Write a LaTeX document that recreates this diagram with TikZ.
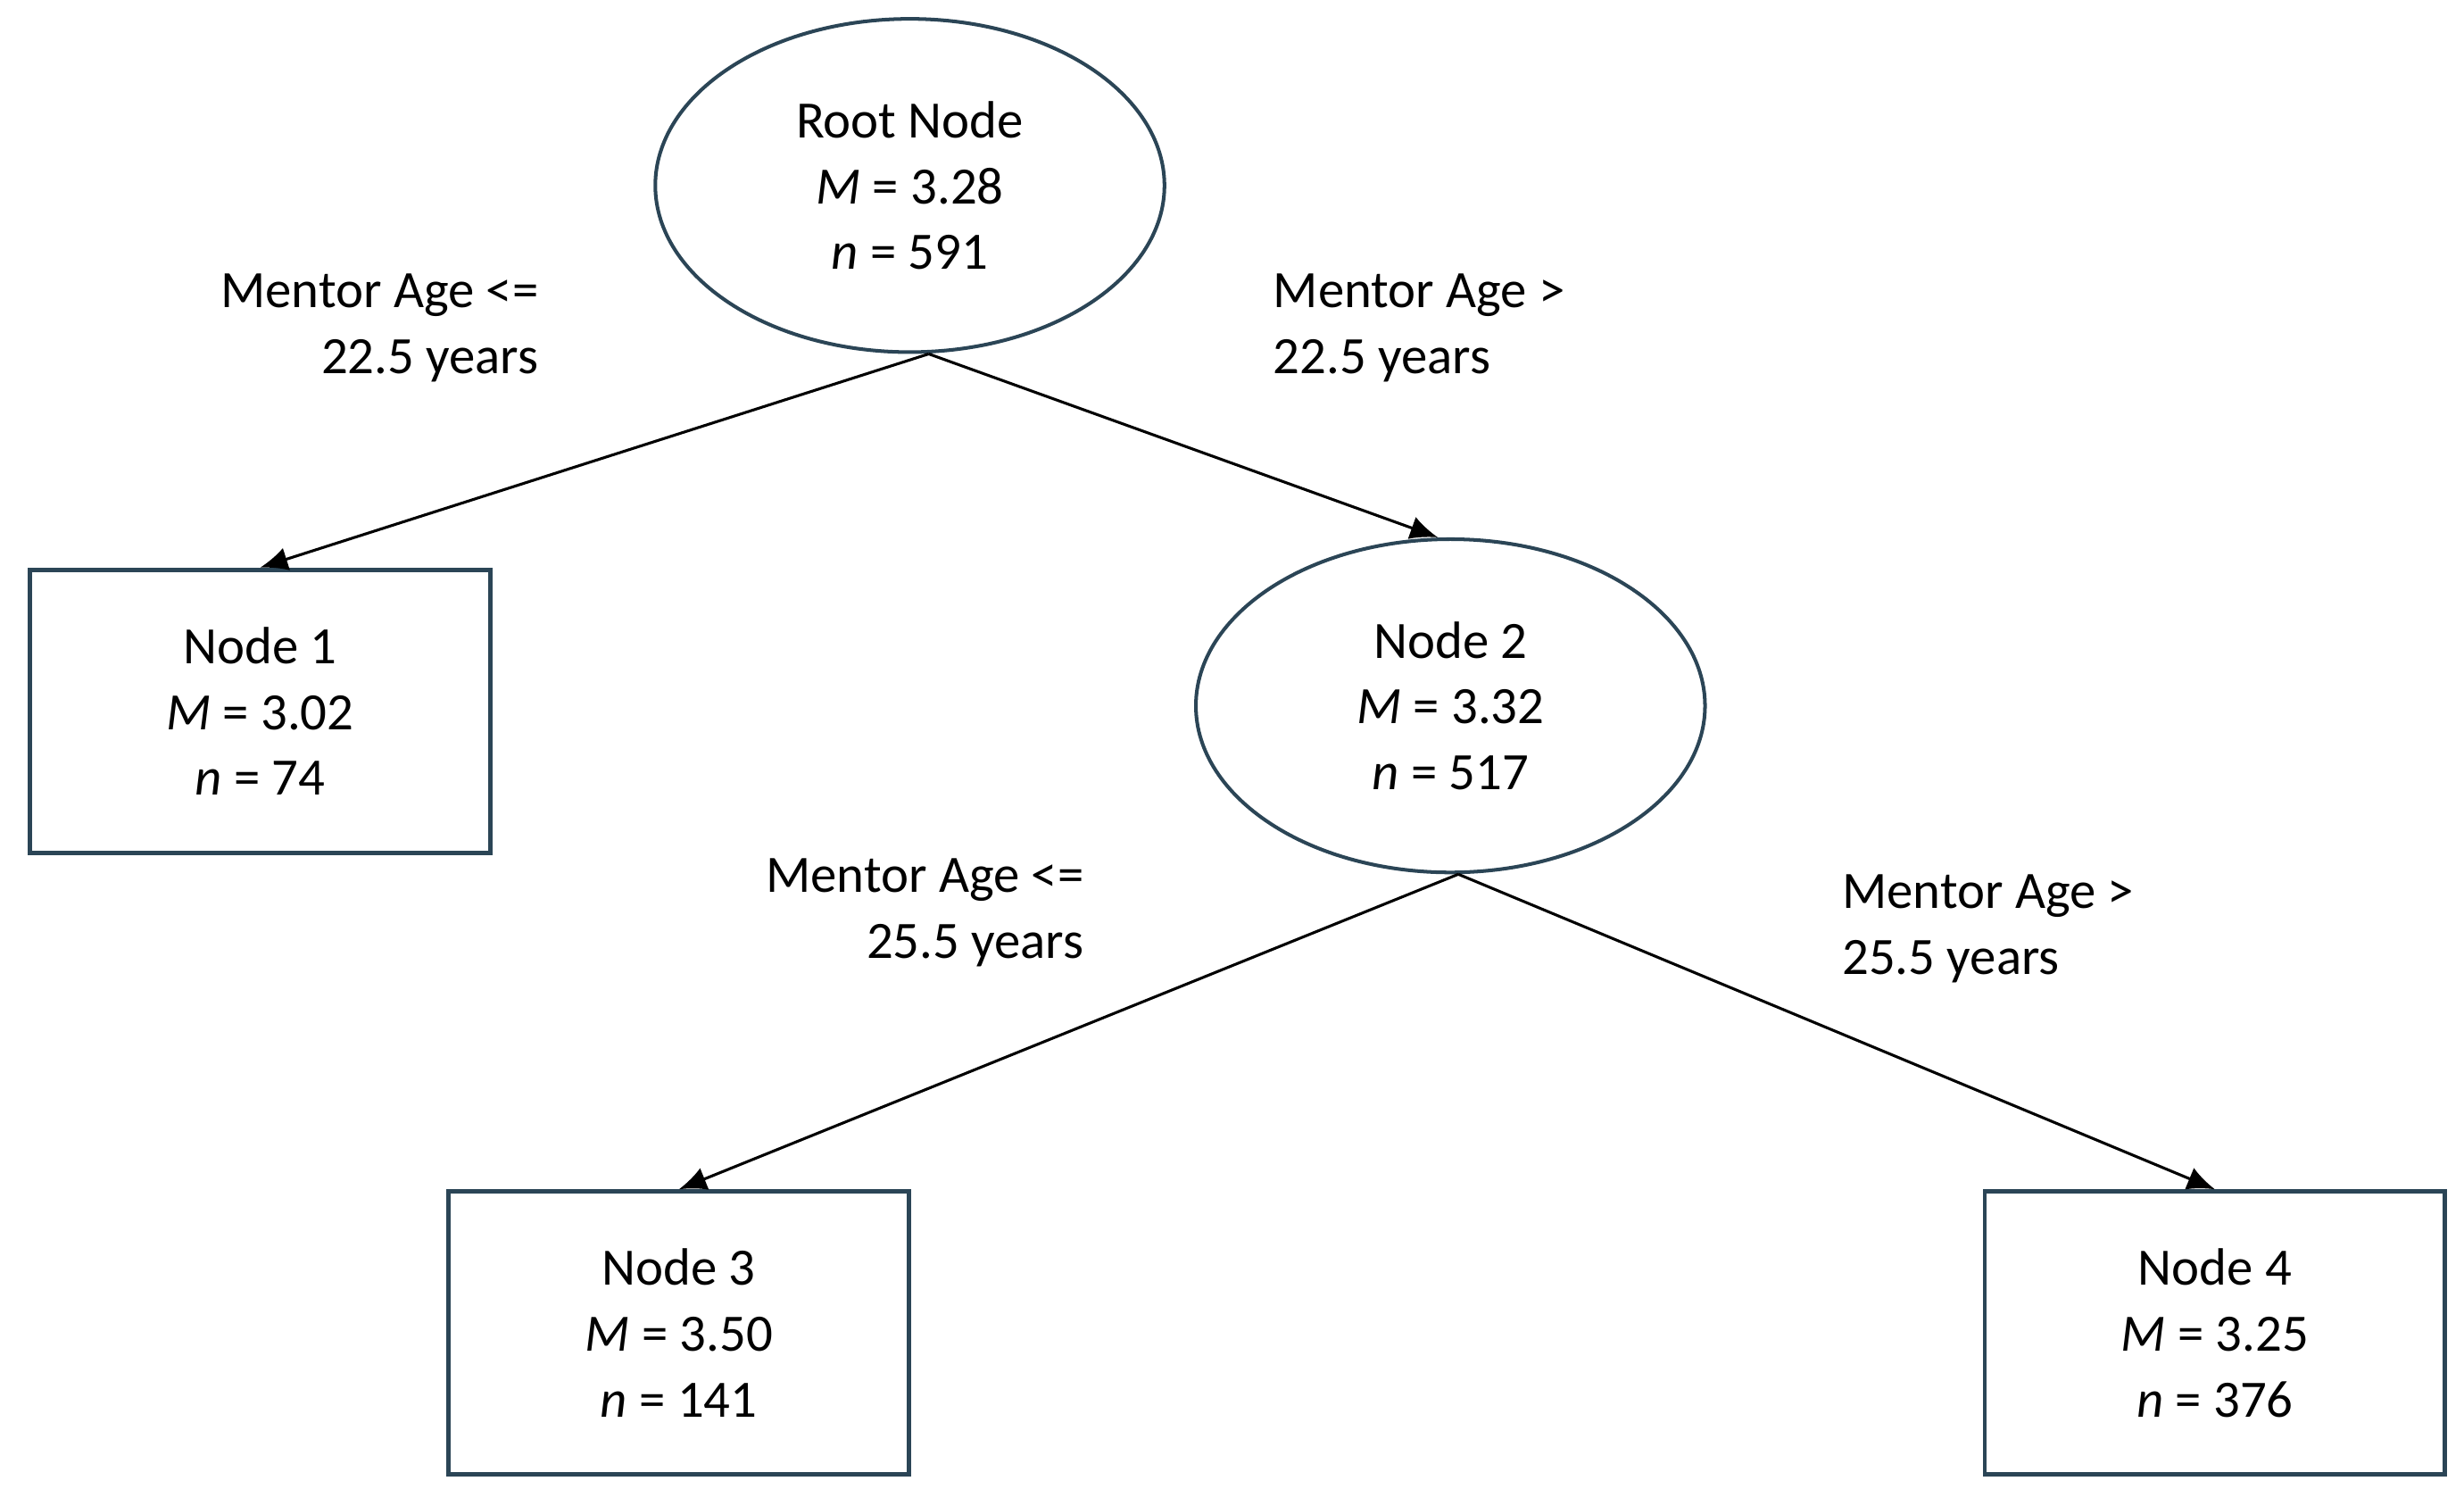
\documentclass[tikz,border=0pt]{standalone}
\usepackage{fontspec}
\setmainfont{Carlito}
\usetikzlibrary{shapes.geometric,arrows.meta}
\definecolor{edgeblue}{HTML}{2B4556}
\tikzset{
  oval/.style={draw=edgeblue, line width=1.3pt, ellipse, minimum width=6.48cm, minimum height=4.24cm, align=center, font=\fontsize{19}{23.8}\selectfont},
  leaf/.style={draw=edgeblue, line width=1.6pt, rectangle, minimum width=5.86cm, minimum height=3.6cm, align=center, font=\fontsize{19}{23.8}\selectfont},
  split/.style={inner sep=0pt, font=\fontsize{19}{23.8}\selectfont}
}
\begin{document}
\begin{tikzpicture}[>={Latex[length=10pt,width=8.5pt]}]
\useasboundingbox (0,0) rectangle (31.36,-19.16);

\node(Root)[oval] at (11.58,-2.36) {Root Node\\\textit{M} = 3.28\\\textit{n} = 591};
\node(N1)[leaf] at (3.31,-9.05) {Node 1\\\textit{M} = 3.02\\\textit{n} = 74};
\node(N2)[oval] at (18.46,-8.98) {Node 2\\\textit{M} = 3.32\\\textit{n} = 517};
\node(N3)[leaf] at (8.64,-16.96) {Node 3\\\textit{M} = 3.50\\\textit{n} = 141};
\node(N4)[leaf] at (28.19,-16.96) {Node 4\\\textit{M} = 3.25\\\textit{n} = 376};

\node(L1)[split, align=right, anchor=east] at (6.86,-4.17) {Mentor Age <=\\22.5 years};
\node(L2)[split, align=left, anchor=west] at (16.2,-4.17) {Mentor Age >\\22.5 years};
\node(L3)[split, align=right, anchor=east] at (13.8,-11.61) {Mentor Age <=\\25.5 years};
\node(L4)[split, align=left, anchor=west] at (23.44,-11.82) {Mentor Age >\\25.5 years};

\draw[line width=1pt] ([xshift=0.24cm]Root.south) edge[->] (N1.north);
\draw[line width=1pt] ([xshift=0.24cm]Root.south) edge[->] ([xshift=-0.16cm]N2.north);
\draw[line width=1pt] ([xshift=0.1cm]N2.south) edge[->] (N3.north);
\draw[line width=1pt] ([xshift=0.1cm]N2.south) edge[->] (N4.north);
\end{tikzpicture}
\end{document}
